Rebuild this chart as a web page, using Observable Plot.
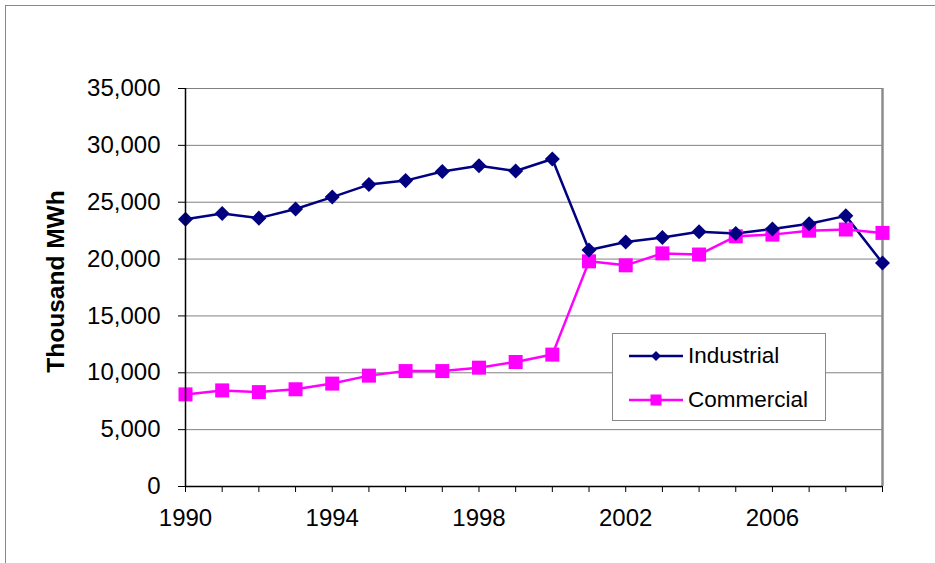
<!DOCTYPE html>
<html>
<head>
<meta charset="utf-8">
<script src="https://cdn.jsdelivr.net/npm/d3@7"></script>
<script src="https://cdn.jsdelivr.net/npm/@observablehq/plot@0.6"></script>
<style>
  html, body { margin: 0; padding: 0; background: #fff; }
  #wrap { position: relative; width: 935px; height: 563px; overflow: hidden; font-family: "Liberation Sans", Arial, sans-serif; }
  #frame { position: absolute; left: 5px; top: 5px; width: 940px; height: 570px; border-top: 1px solid #888; border-left: 1px solid #888; pointer-events: none; }
  #legend { position: absolute; left: 612px; top: 333px; width: 214px; height: 88px; border: 1px solid #888; background: #fff; box-sizing: border-box; }
  .item { position: absolute; left: 16px; display: flex; align-items: center; font-size: 22.5px; color: #000; }
  .item svg { margin-right: 5px; }
</style>
</head>
<body>
<div id="wrap">
  <div id="chart"></div>
  <div id="legend"></div>
  <div id="frame"></div>
</div>
<script>
const years = [1990, 1991, 1992, 1993, 1994, 1995, 1996, 1997, 1998, 1999, 2000, 2001, 2002, 2003, 2004, 2005, 2006, 2007, 2008, 2009];
const industrial = [23500, 24000, 23600, 24400, 25450, 26550, 26900, 27700, 28200, 27750, 28800, 20800, 21500, 21900, 22400, 22250, 22650, 23100, 23800, 19650];
const commercial = [8100, 8450, 8300, 8550, 9050, 9750, 10150, 10150, 10450, 10950, 11600, 19800, 19450, 20500, 20400, 22000, 22150, 22500, 22600, 22300];
const seriesNames = ["Industrial", "Commercial"];
const seriesColors = ["#000080", "#FF00FF"];
const yTicks = [0, 5000, 10000, 15000, 20000, 25000, 30000, 35000];
const xLabelYears = [1990, 1994, 1998, 2002, 2006];
const yTitle = "Thousand MWh";

const ind = years.map((y, i) => ({year: y, value: industrial[i]}));
const com = years.map((y, i) => ({year: y, value: commercial[i]}));

const diamond = {
  draw(ctx, size) {
    const h = Math.sqrt(size / 2);
    ctx.moveTo(0, -h); ctx.lineTo(h, 0); ctx.lineTo(0, h); ctx.lineTo(-h, 0); ctx.closePath();
  }
};

const chart = Plot.plot({
  width: 935,
  height: 563,
  marginLeft: 185,
  marginRight: 53,
  marginTop: 88,
  marginBottom: 77,
  style: {fontFamily: "'Liberation Sans', Arial, sans-serif", fontSize: "24px", color: "#000", background: "#fff", overflow: "visible"},
  x: {domain: [1990, 2009]},
  y: {domain: [0, 35000]},
  marks: [
    Plot.ruleY(yTicks.filter(d => d > 0), {stroke: "#808080", strokeWidth: 1}),
    Plot.ruleX([2009], {stroke: "#8c8c8c", strokeWidth: 2.5}),
    Plot.axisX({ticks: years, tickFormat: d => xLabelYears.includes(d) ? String(d) : "", tickSize: 6, tickPadding: 16, label: null, stroke: "#000"}),
    Plot.axisY({ticks: yTicks, tickFormat: d3.format(","), tickSize: 7, tickPadding: 18, label: null}),
    Plot.text([yTitle], {frameAnchor: "left", textAnchor: "middle", dx: -129, dy: -6, rotate: -90, fontSize: 24.5, fontWeight: "bold", fill: "#000"}),
    Plot.line(ind, {x: "year", y: "value", stroke: seriesColors[0], strokeWidth: 2.5}),
    Plot.line(com, {x: "year", y: "value", stroke: seriesColors[1], strokeWidth: 2.5}),
    Plot.dot(com, {x: "year", y: "value", symbol: "square", r: 7.9, fill: seriesColors[1], stroke: "none"}),
    Plot.dot(ind, {x: "year", y: "value", symbol: diamond, r: 6, fill: seriesColors[0], stroke: "none"}),
    Plot.ruleY([0], {stroke: "#000", strokeWidth: 1.5}),
    Plot.ruleX([1990], {stroke: "#000", strokeWidth: 1.5})
  ]
});
document.getElementById("chart").appendChild(chart);

const legend = document.getElementById("legend");
const tops = [9, 53];
seriesNames.forEach((name, i) => {
  const item = document.createElement("div");
  item.className = "item";
  item.style.top = tops[i] + "px";
  const marker = i === 0
    ? '<polygon points="27,5 32,10 27,15 22,10" fill="' + seriesColors[0] + '"/>'
    : '<rect x="21.5" y="4.5" width="11" height="11" fill="' + seriesColors[1] + '"/>';
  item.innerHTML = '<svg width="54" height="20"><line x1="0" x2="54" y1="10" y2="10" stroke="' + seriesColors[i] + '" stroke-width="2.5"/>' + marker + '</svg><span>' + name + '</span>';
  legend.appendChild(item);
});
</script>
</body>
</html>
